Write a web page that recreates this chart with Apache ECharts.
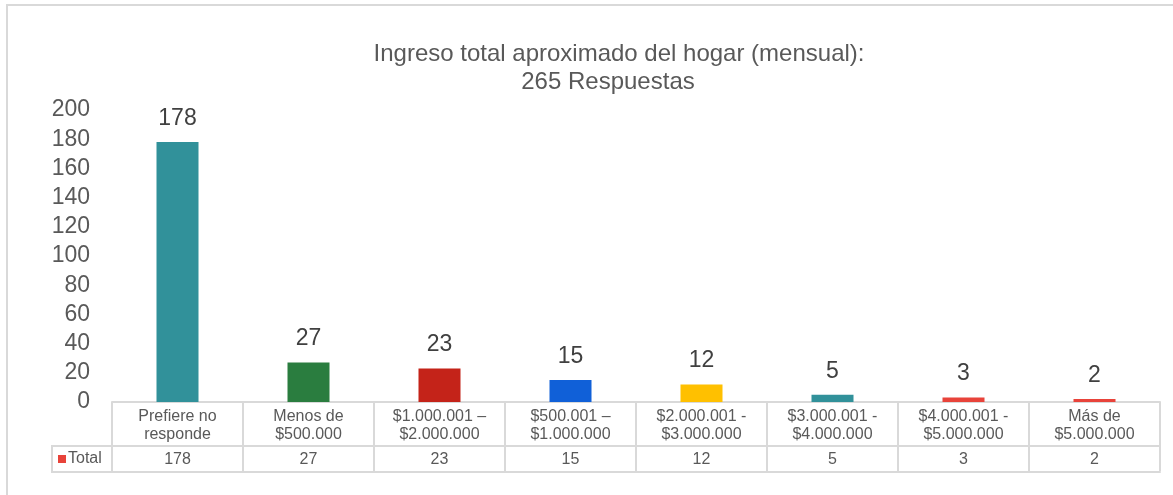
<!DOCTYPE html>
<html>
<head>
<meta charset="utf-8">
<script src="https://cdn.jsdelivr.net/npm/echarts@6/dist/echarts.min.js"></script>
<style>
  html, body { margin: 0; padding: 0; background: #fff; }
  #chart { width: 1173px; height: 495px; }
</style>
</head>
<body>
<div id="chart"></div>
<script>
var categories = ['Prefiere no\nresponde', 'Menos de\n$500.000', '$1.000.001 –\n$2.000.000', '$500.001 –\n$1.000.000',
  '$2.000.001 -\n$3.000.000', '$3.000.001 -\n$4.000.000', '$4.000.001 -\n$5.000.000', 'Más de\n$5.000.000'];
var totals = [178, 27, 23, 15, 12, 5, 3, 2];
var barColors = ['#31919A', '#2A7D3F', '#C42319', '#1060D8', '#FFC000', '#31919A', '#E8433A', '#E8433A'];
var yTicks = [0, 20, 40, 60, 80, 100, 120, 140, 160, 180, 200];

var gridLine = '#D9D9D9';
var txt = '#595959';
var font = 'Liberation Sans, Arial, sans-serif';

var myChart = echarts.init(document.getElementById('chart'));
var option = {
  animation: false,
  textStyle: { fontFamily: font },
  // titulo en dos lineas, la segunda algo corrida a la izquierda como en el original
  title: [
    {
      text: 'Ingreso total aproximado del hogar (mensual):',
      left: 614,
      top: 37,
      textAlign: 'center',
      textStyle: { fontSize: 24, fontWeight: 'normal', color: txt }
    },
    {
      text: '265 Respuestas',
      left: 603,
      top: 65,
      textAlign: 'center',
      textStyle: { fontSize: 24, fontWeight: 'normal', color: txt }
    }
  ],
  grid: { left: 112, right: 13, top: 110, bottom: 93 },
  xAxis: [
    {
      type: 'category',
      data: categories,
      position: 'bottom',
      axisLine: { lineStyle: { color: gridLine, width: 2 } },
      axisTick: { show: true, length: 69, lineStyle: { color: gridLine, width: 2 } },
      axisLabel: { margin: 6, fontSize: 16, lineHeight: 18, color: txt, interval: 0 }
    },
    {
      type: 'category',
      data: totals.map(String),
      position: 'bottom',
      offset: 44,
      axisLine: { lineStyle: { color: gridLine, width: 2 } },
      axisTick: { show: false },
      axisLabel: { margin: 6, fontSize: 16, color: txt, interval: 0 }
    },
    {
      type: 'category',
      data: categories,
      position: 'bottom',
      offset: 70,
      axisLine: { lineStyle: { color: gridLine, width: 2 } },
      axisTick: { show: false },
      axisLabel: { show: false }
    }
  ],
  yAxis: {
    type: 'value',
    min: yTicks[0],
    max: yTicks[yTicks.length - 1],
    interval: 20,
    axisLine: { show: false },
    axisTick: { show: false },
    splitLine: { show: false },
    axisLabel: { fontSize: 23, color: txt, margin: 22, padding: [4, 0, 0, 0] }
  },
  series: [{
    name: 'Total',
    type: 'bar',
    barWidth: 42,
    data: totals.map(function (v, i) {
      return { value: v, itemStyle: { color: barColors[i] } };
    }),
    label: { show: true, position: 'top', distance: 12, fontSize: 23, color: '#404040' }
  }],
  graphic: [
    {
      type: 'rect',
      shape: { x: 7, y: 5, width: 1200, height: 520 },
      style: { fill: 'none', stroke: gridLine, lineWidth: 2 },
      silent: true
    },
    {
      type: 'rect',
      shape: { x: 52, y: 446, width: 60, height: 26 },
      style: { fill: 'none', stroke: gridLine, lineWidth: 2 }
    },
    {
      type: 'rect',
      shape: { x: 58, y: 455, width: 8, height: 8 },
      style: { fill: '#E8433A' }
    },
    {
      type: 'text',
      left: 68,
      top: 451,
      style: { text: 'Total', fontSize: 16, fill: txt, fontFamily: font }
    }
  ]
};
myChart.setOption(option);
window.onresize = myChart.resize;
</script>
</body>
</html>
